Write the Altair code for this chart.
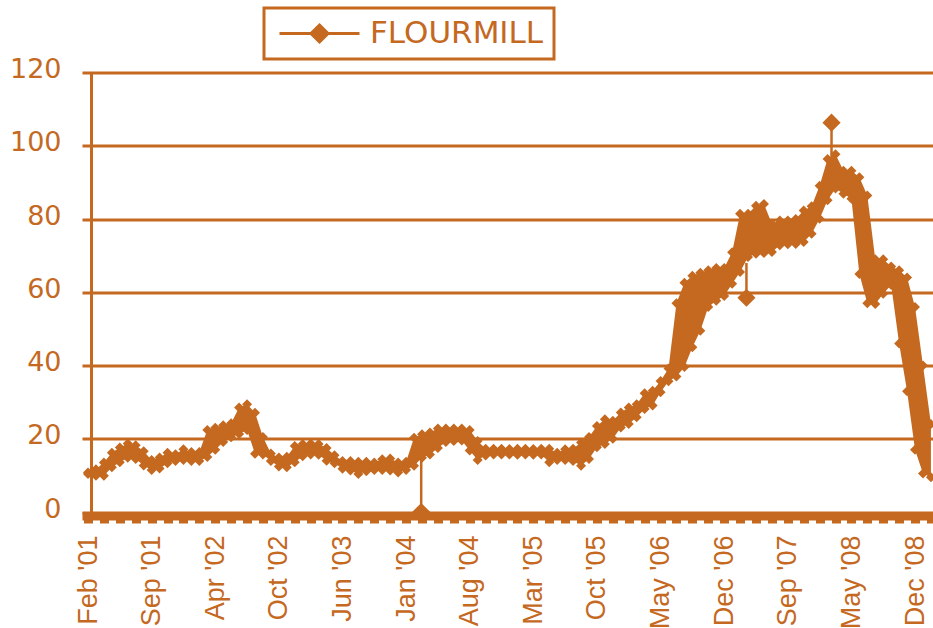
import json

import altair as alt
import pandas as pd

ORANGE = "#C4691F"

# Category labels shown every LABEL_EVERY samples along the bottom axis
x_labels = ["Feb '01", "Sep '01", "Apr '02", "Oct '02", "Jun '03", "Jan '04", "Aug '04",
            "Mar '05", "Oct '05", "May '06", "Dec '06", "Sep '07", "May '08", "Dec '08"]
LABEL_EVERY = 8

# Upper and lower envelope of the daily price within each sample window
price_high = [
    10.8, 11.7, 13.5, 16.2, 17.6, 18.7, 18.2, 16.6, 14.2, 14.9, 16.2, 15.8, 17.1, 16.4, 16.4, 22.4,
    23.0, 23.7, 24.2, 28.5, 29.4, 27.1, 20.5, 16.0, 14.9, 15.1, 18.0, 18.6, 18.7, 18.6, 17.5, 15.5,
    13.9, 13.9, 13.7, 13.7, 13.5, 14.4, 14.6, 13.5, 13.7, 20.3, 21.2, 21.7, 22.8, 22.8, 22.8, 22.8,
    22.4, 19.4, 17.3, 17.3, 17.3, 17.2, 17.3, 17.3, 17.2, 17.3, 17.3, 16.2, 17.1, 17.3, 19.0, 20.5,
    23.5, 25.3, 24.9, 27.2, 28.5, 29.4, 32.4, 33.1, 35.8, 39.2, 57.0, 62.6, 64.5, 65.3, 66.0, 66.6,
    66.6, 70.9, 81.4, 81.4, 83.6, 84.1, 78.7, 79.6, 79.6, 80.0, 82.3, 83.5, 89.1, 96.4, 97.7, 93.2,
    93.2, 91.4, 86.4, 69.0, 69.0, 67.0, 66.0, 64.0, 56.0, 40.0, 24.0,
]
price_low = [
    10.4, 9.9, 9.9, 12.2, 13.6, 14.8, 14.5, 12.7, 11.5, 11.9, 13.3, 13.9, 14.2, 13.9, 13.9, 15.0,
    17.0, 19.1, 20.4, 21.3, 22.4, 15.9, 15.7, 13.9, 12.4, 12.2, 13.6, 15.2, 15.7, 15.6, 14.0, 13.3,
    11.8, 11.3, 10.4, 11.1, 11.5, 11.5, 11.3, 10.8, 11.5, 12.6, 14.8, 15.7, 17.5, 19.1, 19.4, 19.5,
    16.8, 14.2, 15.4, 15.7, 15.7, 15.7, 15.6, 15.7, 15.6, 15.7, 13.6, 14.2, 14.2, 13.9, 12.6, 14.5,
    17.7, 18.6, 20.0, 23.1, 24.0, 25.9, 28.1, 29.1, 32.7, 35.7, 37.0, 39.6, 45.0, 49.5, 56.0, 57.7,
    59.0, 62.3, 65.5, 69.6, 70.5, 70.7, 71.0, 72.8, 73.1, 73.2, 73.7, 76.0, 80.1, 85.1, 88.3, 86.9,
    85.5, 65.0, 57.0, 56.8, 59.6, 62.0, 46.0, 33.0, 17.0, 10.5, 9.5,
]

# Isolated one-day prints that stand out from the band
spike_idx = [41.9, 82.8, 93.5]
spike_from = [17.0, 68.0, 95.0]
spike_to = [0.0, 58.5, 106.3]

SERIES = "FLOURMILL"

n = len(price_high)
band = pd.DataFrame({"idx": list(range(n)), "lo": price_low, "hi": price_high, "series": SERIES})
edges = pd.concat([
    pd.DataFrame({"idx": list(range(n)), "v": price_high}),
    pd.DataFrame({"idx": list(range(n)), "v": price_low}),
], ignore_index=True)
spikes = pd.DataFrame({"idx": spike_idx, "v0": spike_from, "v": spike_to})

label_expr = (
    f"datum.value % {LABEL_EVERY} === 0 ? "
    f"{json.dumps(x_labels)}[datum.value / {LABEL_EVERY}] : ''"
)

x_axis = alt.Axis(
    values=list(range(0, n, 2)), labelExpr=label_expr, labelAngle=-90,
    labelFont="Liberation Sans", labelFontSize=27, labelColor=ORANGE,
    labelPadding=12, labelOverlap=False, labelFlush=False, labelBound=False,
    tickSize=7, tickWidth=9, tickColor=ORANGE,
    domainWidth=8, domainColor=ORANGE, offset=4, grid=False, title=None,
)
y_axis = alt.Axis(
    values=list(range(0, 121, 20)), offset=-9, ticks=False, labelPadding=30,
    labelFont="DejaVu Sans", labelFontSize=27, labelColor=ORANGE, labelOffset=-3,
    domainWidth=3, domainColor=ORANGE,
    grid=True, gridColor=ORANGE, gridWidth=3, gridOpacity=1, title=None,
)

x_scale = alt.Scale(domain=[-0.755, 106.26], nice=False, zero=False)
y_scale = alt.Scale(domain=[0, 120], nice=False, zero=False)

X = alt.X("idx:Q", scale=x_scale, axis=x_axis)

# Legend glyph: an 80px stroke with a diamond in its middle (unit = 10px at size 400)
legend_symbol = "M-1,0L7,0M3,-0.85L3.85,0L3,0.85L2.15,0Z"

area = alt.Chart(band).mark_area(opacity=1).encode(
    x=X,
    y=alt.Y("lo:Q", scale=y_scale, axis=y_axis),
    y2="hi:Q",
    color=alt.Color(
        "series:N", scale=alt.Scale(range=[ORANGE]),
        legend=alt.Legend(
            title=None, orient="none", legendX=182, legendY=-64.5,
            symbolType=legend_symbol, symbolSize=400, symbolStrokeWidth=3,
            symbolFillColor=ORANGE, symbolStrokeColor=ORANGE, symbolOpacity=1,
            labelFont="DejaVu Sans", labelFontSize=31, labelColor=ORANGE, labelLimit=400,
            labelOffset=65, padding=10, strokeColor=ORANGE, fillColor="white",
        ),
    ),
)

edge_pts = alt.Chart(edges).mark_point(
    shape="diamond", filled=True, size=100, color=ORANGE, opacity=1, strokeWidth=0
).encode(x=X, y=alt.Y("v:Q", scale=y_scale))

spike_rule = alt.Chart(spikes).mark_rule(color=ORANGE, strokeWidth=2.5).encode(
    x=X, y=alt.Y("v0:Q", scale=y_scale), y2="v:Q"
)
spike_pts = alt.Chart(spikes).mark_point(
    shape="diamond", filled=True, size=330, color=ORANGE, opacity=1, strokeWidth=0
).encode(x=X, y=alt.Y("v:Q", scale=y_scale))

chart = alt.layer(area, edge_pts, spike_rule, spike_pts).properties(
    width=851, height=439.5,
    padding={"left": 82, "top": 72.5, "right": 0, "bottom": 116},
    autosize=alt.AutoSizeParams(type="none"),
    background="white",
).configure_view(stroke=None).configure_legend(strokeWidth=3)

chart.save("out.html", embed_options={"renderer": "svg", "actions": False})
